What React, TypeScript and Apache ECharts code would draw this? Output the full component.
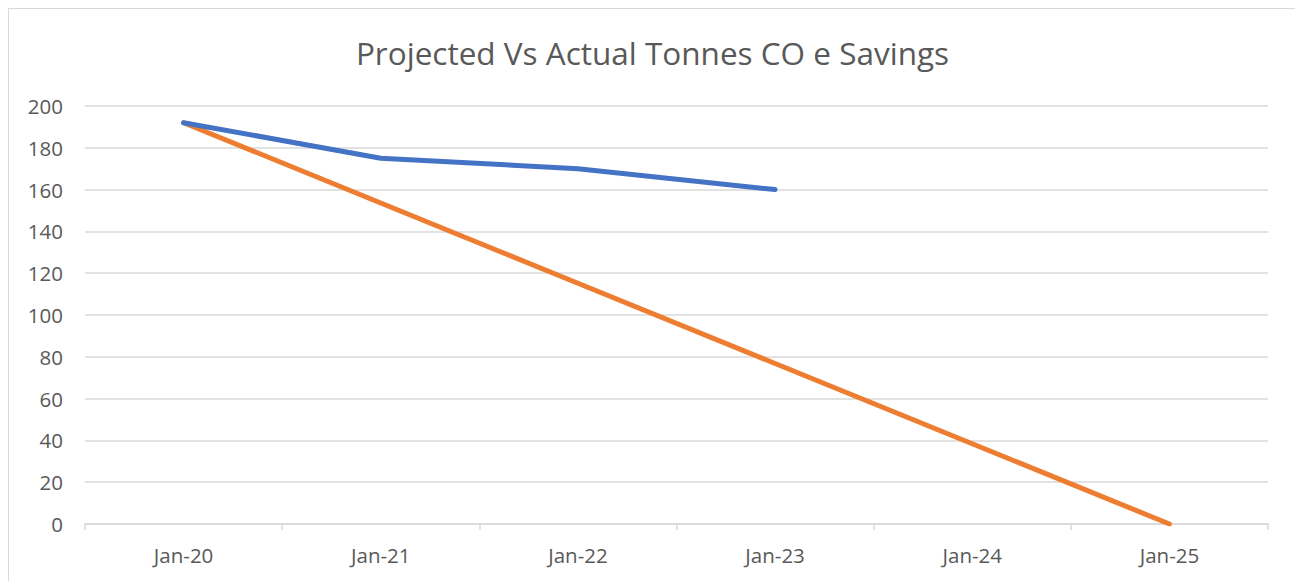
import React, { useEffect, useRef } from "react";
import * as echarts from "echarts";

const categories = ["Jan-20", "Jan-21", "Jan-22", "Jan-23", "Jan-24", "Jan-25"];
const actual = [192, 175, 170, 160, null, null];
const projected = [192, 153.6, 115.2, 76.8, 38.4, 0];

export default function App() {
  const ref = useRef<HTMLDivElement>(null);
  useEffect(() => {
    if (!ref.current) return;
    const chart = echarts.init(ref.current, null, { renderer: "svg" });
    chart.setOption({
      animation: false,
      backgroundColor: "#ffffff",
      title: {
        text: "Projected Vs Actual Tonnes CO e Savings",
        left: "center",
        top: 22,
        textStyle: { fontFamily: "Open Sans", fontSize: 31.5, fontWeight: "normal", color: "#595959" },
      },
      grid: { left: 76, right: 28, top: 97, bottom: 58 },
      xAxis: {
        type: "category",
        data: categories,
        boundaryGap: true,
        axisLine: { lineStyle: { color: "#d9d9d9", width: 1.5 } },
        axisTick: { show: true, length: 6, lineStyle: { color: "#d9d9d9", width: 1.5 } },
        axisLabel: { color: "#595959", fontFamily: "Open Sans", fontSize: 20.5, margin: 20 },
      },
      yAxis: {
        type: "value",
        min: 0,
        max: 200,
        interval: 20,
        axisLine: { show: false },
        axisTick: { show: false },
        axisLabel: { color: "#595959", fontFamily: "Open Sans", fontSize: 20.5, margin: 22 },
        splitLine: { lineStyle: { color: "#d9d9d9", width: 1.5 } },
      },
      series: [
        {
          name: "Projected",
          type: "line",
          data: projected,
          symbol: "none",
          lineStyle: { color: "#ED7D31", width: 5, cap: "round" },
          z: 2,
        },
        {
          name: "Actual",
          type: "line",
          data: actual,
          symbol: "none",
          lineStyle: { color: "#4472C4", width: 5, cap: "round" },
          z: 3,
        },
      ],
    });
    return () => chart.dispose();
  }, []);
  return (
    <div
      ref={ref}
      style={{ width: 1287, height: 573, border: "1px solid #d9d9d9", boxSizing: "content-box" }}
    />
  );
}
